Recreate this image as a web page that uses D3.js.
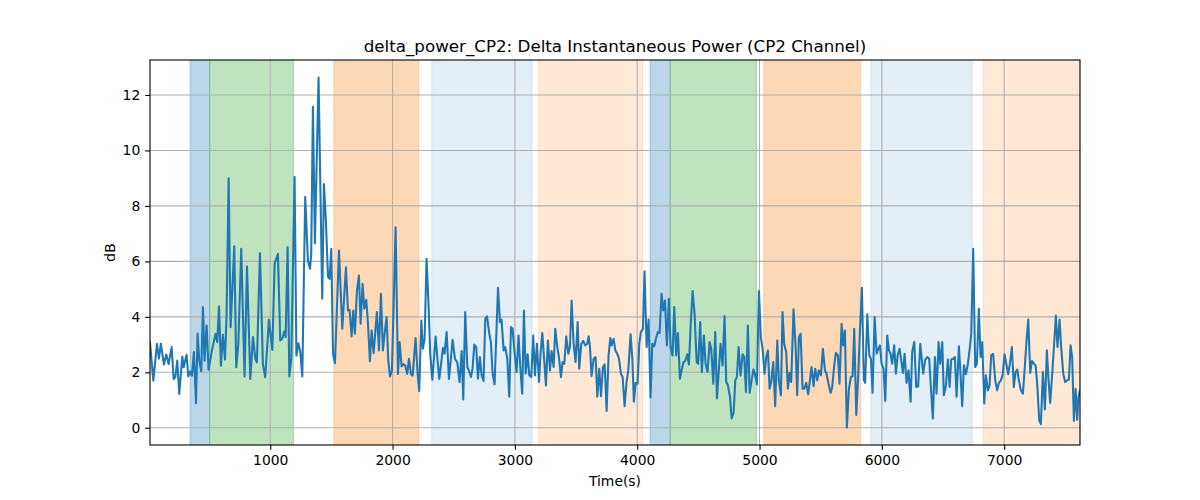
<!DOCTYPE html>
<html><head><meta charset="utf-8">
<script src="https://cdn.jsdelivr.net/npm/d3@7"></script>
<style>body{margin:0;background:#fff}svg{display:block}text{font-family:"DejaVu Sans",sans-serif;fill:#000}</style>
</head><body><svg id="c" width="1200" height="500"></svg>
<script>
const times = [17,44,74,90,106,131,150,169,194,210,224,240,256,281,292,316,330,346,360,376,393,406,420,436,450,463,480,496,523,553,567,581,597,613,630,643,660,676,706,722,739,763,790,810,837,859,878,891,916,940,959,989,1017,1036,1063,1082,1098,1115,1126,1142,1156,1172,1199,1214,1230,1245,1262,1286,1308,1325,1335,1349,1365,1395,1425,1439,1455,1472,1485,1499,1513,1529,1562,1589,1619,1635,1649,1665,1679,1692,1709,1725,1739,1755,1769,1785,1799,1815,1829,1845,1872,1889,1905,1921,1935,1951,1965,1979,1995,2025,2044,2058,2074,2088,2104,2120,2134,2150,2164,2188,2205,2218,2235,2248,2262,2278,2295,2308,2325,2352,2368,2382,2412,2425,2442,2461,2491,2510,2529,2548,2565,2578,2594,2611,2624,2641,2654,2668,2684,2698,2714,2728,2744,2758,2772,2791,2804,2818,2834,2862,2878,2891,2908,2921,2938,2954,2968,2981,2998,3014,3030,3044,3060,3074,3088,3104,3118,3134,3150,3164,3180,3197,3210,3224,3238,3254,3270,3287,3300,3317,3330,3347,3360,3377,3390,3404,3420,3437,3450,3464,3480,3496,3513,3526,3543,3559,3575,3592,3603,3614,3627,3644,3660,3674,3690,3704,3720,3734,3750,3766,3780,3791,3807,3821,3837,3851,3867,3881,3897,3913,3927,3946,3960,3973,3987,4003,4017,4030,4047,4060,4077,4093,4109,4123,4139,4153,4169,4183,4199,4213,4227,4243,4259,4273,4289,4303,4319,4333,4349,4366,4379,4393,4409,4423,4439,4453,4469,4486,4499,4515,4529,4545,4559,4575,4592,4605,4622,4638,4652,4668,4682,4698,4714,4728,4742,4758,4772,4788,4802,4815,4829,4845,4862,4875,4889,4905,4919,4935,4951,4965,4979,4995,5011,5025,5041,5055,5069,5082,5096,5112,5128,5145,5158,5175,5188,5202,5218,5232,5246,5259,5278,5295,5308,5322,5336,5352,5366,5382,5398,5412,5425,5442,5455,5472,5485,5502,5518,5535,5548,5564,5581,5594,5611,5624,5641,5654,5671,5684,5698,5714,5731,5747,5761,5774,5791,5807,5821,5837,5853,5864,5881,5897,5911,5924,5941,5957,5971,5984,5998,6014,6028,6044,6058,6071,6085,6101,6115,6129,6145,6159,6172,6186,6202,6218,6235,6248,6265,6281,6297,6314,6338,6355,6371,6387,6401,6417,6434,6447,6464,6477,6494,6507,6524,6540,6554,6567,6584,6597,6611,6630,6643,6657,6671,6687,6703,6720,6731,6747,6763,6777,6793,6807,6821,6837,6851,6867,6881,6894,6910,6927,6943,6957,6973,6987,7003,7017,7033,7047,7063,7079,7093,7107,7120,7137,7153,7167,7183,7197,7213,7227,7243,7257,7270,7287,7300,7317,7333,7349,7363,7376,7393,7406,7423,7436,7453,7466,7483,7499,7515,7529,7543,7556,7570,7584,7597,7608,7620];
const values = [3.08,1.70,3.03,2.49,3.03,2.28,2.64,2.30,2.91,1.76,1.82,2.42,1.22,2.57,2.18,2.63,1.85,2.04,1.88,2.73,0.89,3.39,2.42,2.04,4.35,2.42,3.69,2.09,2.79,3.39,3.09,4.38,2.24,3.35,2.46,4.05,9.00,3.63,6.54,2.18,3.03,6.45,1.85,5.81,1.76,3.27,2.49,2.36,6.29,2.30,1.82,3.89,2.81,5.91,6.27,3.15,3.21,3.48,3.27,6.51,1.85,2.49,9.05,2.6,3.05,2.75,1.85,8.33,6.03,5.73,6.27,11.57,6.65,12.63,4.65,8.79,7.47,5.45,5.37,6.45,2.67,2.33,6.39,3.57,5.79,4.23,4.25,3.29,4.23,3.39,4.95,5.49,3.75,5.19,4.29,4.61,3.75,2.40,3.51,2.69,4.17,2.79,4.83,2.79,3.39,3.99,2.43,1.85,2.06,7.23,1.94,3.09,2.21,2.30,2.24,1.94,2.49,1.94,1.88,3.24,1.94,1.32,3.87,2.85,3.21,6.09,4.35,2.67,1.73,3.29,2.43,1.76,2.88,2.67,3.45,1.76,3.17,2.49,2.36,1.65,2.77,1.02,4.17,2.19,2.07,1.83,2.13,3.00,2.91,1.77,2.55,1.89,1.69,3.93,4.02,3.39,3.09,1.95,1.57,5.05,3.81,3.90,2.79,2.91,2.49,1.12,3.63,3.57,2.67,2.01,3.33,2.19,1.23,4.23,1.95,2.65,1.89,1.83,3.33,1.89,3.03,1.65,2.67,3.42,2.55,1.53,3.15,2.07,2.77,2.19,3.57,2.91,2.55,1.83,2.37,2.31,3.30,2.67,2.91,4.59,3.03,2.37,3.81,2.13,3.03,3.13,2.97,3.03,3.30,2.91,1.86,2.49,2.55,1.12,2.13,1.14,2.19,2.29,0.61,2.61,3.24,2.97,3.21,2.79,2.67,2.49,1.95,1.83,0.78,1.65,2.07,3.37,2.49,0.94,1.62,1.59,3.03,3.45,3.57,5.64,2.91,3.90,1.09,3.03,2.94,3.21,3.45,3.42,4.83,4.23,4.59,2.97,4.65,2.91,2.61,4.35,2.61,3.42,1.77,2.13,2.37,2.41,2.65,2.28,3.87,4.93,4.11,2.37,2.31,3.81,2.01,3.33,2.31,2.01,3.09,2.85,1.59,3.45,1.06,2.13,3.03,2.25,4.02,1.65,1.53,1.12,0.34,0.54,1.71,1.83,2.91,1.89,2.65,2.55,1.29,3.69,1.26,1.71,2.10,1.89,1.56,4.93,3.27,2.85,1.95,2.55,2.79,1.41,1.65,2.37,0.78,3.15,1.71,1.17,4.17,3.01,2.73,1.41,1.98,1.65,4.27,2.91,1.17,3.27,3.39,1.41,1.41,1.62,1.21,1.71,2.19,1.50,2.13,1.71,2.07,1.89,2.85,2.07,1.95,1.59,1.26,1.45,2.25,2.70,2.61,1.59,3.75,2.97,3.51,0.01,1.41,1.83,1.86,3.57,0.46,1.89,3.51,5.05,1.71,1.62,4.09,2.61,2.49,1.26,3.99,2.67,2.85,2.97,2.31,2.13,0.97,3.33,2.79,2.67,2.31,2.97,1.95,2.61,2.85,2.41,1.98,2.67,1.62,2.07,0.94,2.73,3.09,1.47,1.50,3.03,1.95,2.46,2.55,2.49,1.47,0.34,2.55,1.23,3.09,2.31,3.09,1.17,1.53,2.46,1.47,2.46,2.49,2.55,1.12,2.94,1.95,0.78,2.25,1.93,2.29,2.91,3.39,6.45,2.19,2.31,4.29,2.55,3.09,0.88,1.89,1.35,1.53,2.61,2.67,1.71,1.35,1.62,1.71,1.89,2.65,2.31,1.93,2.31,2.91,1.47,2.01,2.10,1.71,1.35,1.23,2.07,3.15,3.90,1.98,2.41,2.31,2.25,1.59,0.25,0.13,2.01,0.66,2.79,1.71,0.90,1.95,2.85,4.05,2.91,3.90,2.91,1.95,1.65,1.71,1.74,2.97,2.55,0.25,1.41,0.28,1.12,1.34];
const spanStarts = [345,505,1520,2320,3190,4105,4270,5035,5910,6830];
const spanEnds   = [505,1190,2215,3140,4045,4270,4975,5825,6740,7620];
const spanKinds  = ["blue","green","orange","lightblue","lightorange","blue","green","orange","lightblue","lightorange"];
const xTicks = [1000,2000,3000,4000,5000,6000,7000];
const yTicks = [0,2,4,6,8,10,12];
const title = "delta_power_CP2: Delta Instantaneous Power (CP2 Channel)";
const xLabel = "Time(s)", yLabel = "dB";

const kindStyle = {
  blue: ["#1f77b4", 0.3], green: ["#2ca02c", 0.3], orange: ["#ff7f0e", 0.3],
  lightblue: ["#1f77b4", 0.12], lightorange: ["#ff7f0e", 0.17]
};
const L = 150, R = 1080, T = 60, B = 445;
const svg = d3.select("#c");
const x = d3.scaleLinear().domain([times[0], times[times.length-1]]).range([L, R]);
const ymin = d3.min(values), ymax = d3.max(values), pad = (ymax - ymin) * 0.05;
const y = d3.scaleLinear().domain([ymin - pad, ymax + pad]).range([B, T]);

const clip = svg.append("clipPath").attr("id","clip").append("rect").attr("x",L).attr("y",T).attr("width",R-L).attr("height",B-T);
const g = svg.append("g").attr("clip-path","url(#clip)");
spanStarts.forEach((s,i) => {
  const [c,a] = kindStyle[spanKinds[i]];
  g.append("rect").attr("x", x(s)).attr("y", T - 5).attr("width", x(spanEnds[i]) - x(s)).attr("height", B - T + 10)
   .attr("fill", c).attr("fill-opacity", a).attr("stroke", c).attr("stroke-opacity", a).attr("stroke-width", 1);
});
// grid
xTicks.forEach(t => g.append("line").attr("x1", x(t)).attr("x2", x(t)).attr("y1", T).attr("y2", B).attr("stroke","#b0b0b0").attr("stroke-width",1.1));
yTicks.forEach(t => g.append("line").attr("x1", L).attr("x2", R).attr("y1", y(t)).attr("y2", y(t)).attr("stroke","#b0b0b0").attr("stroke-width",1.1));
// line
g.append("path").datum(d3.zip(times, values))
 .attr("d", d3.line().x(d => x(d[0])).y(d => y(d[1])))
 .attr("fill","none").attr("stroke","#1f77b4").attr("stroke-width",2.08).attr("stroke-linejoin","round").attr("stroke-linecap","square");

// axes
const xa = svg.append("g").attr("transform", `translate(0,${B})`).call(d3.axisBottom(x).tickValues(xTicks).tickFormat(d3.format("d")).tickSize(4.86).tickPadding(4.86));
const ya = svg.append("g").attr("transform", `translate(${L},0)`).call(d3.axisLeft(y).tickValues(yTicks).tickFormat(d3.format("d")).tickSize(4.86).tickPadding(4.86));
[xa, ya].forEach(a => {
  a.select(".domain").remove();
  a.selectAll(".tick line").attr("stroke","#000").attr("stroke-width",1.1);
  a.selectAll(".tick text").attr("font-size","13.9px").attr("font-family","DejaVu Sans, sans-serif").attr("fill","#000");
});
svg.append("rect").attr("x",L).attr("y",T).attr("width",R-L).attr("height",B-T).attr("fill","none").attr("stroke","#000").attr("stroke-width",1.1);

svg.append("text").attr("x",(L+R)/2).attr("y",T-8.5).attr("text-anchor","middle").attr("font-size","16.7px").text(title);
svg.append("text").attr("x",(L+R)/2).attr("y",486).attr("text-anchor","middle").attr("font-size","13.9px").text(xLabel);
svg.append("text").attr("transform",`translate(115,${(T+B)/2}) rotate(-90)`).attr("text-anchor","middle").attr("font-size","13.9px").text(yLabel);
</script></body></html>
